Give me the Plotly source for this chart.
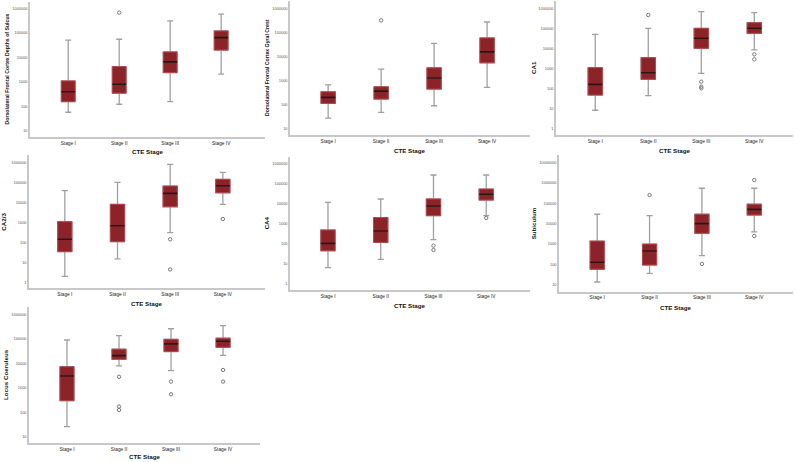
import plotly.graph_objects as go

W, H = 795, 462
STAGES = ["Stage I", "Stage II", "Stage III", "Stage IV"]

# ---- Dorsolateral Frontal Cortex Depths of Sulcus
SULCUS_LO = [58, 123, 157, 2100]
SULCUS_Q1 = [157, 350, 2400, 20000]
SULCUS_MED = [400, 800, 6600, 64000]
SULCUS_Q3 = [1100, 4200, 16700, 120000]
SULCUS_HI = [51000, 55000, 309000, 580000]
SULCUS_OUT_X = ["Stage II"]
SULCUS_OUT_Y = [670000]

# ---- Dorsolateral Frontal Cortex Gyral Crest
CREST_LO = [28, 49, 92, 530]
CREST_Q1 = [115, 174, 450, 5500]
CREST_MED = [204, 372, 1290, 15600]
CREST_Q3 = [347, 560, 3400, 59000]
CREST_HI = [676, 3000, 35000, 270000]
CREST_OUT_X = ["Stage II"]
CREST_OUT_Y = [316000]

# ---- CA1
CA1_LO = [8, 43, 560, 8300]
CA1_Q1 = [46, 282, 10000, 56000]
CA1_MED = [158, 600, 31600, 100000]
CA1_Q3 = [1070, 3400, 100000, 190000]
CA1_HI = [50000, 100000, 676000, 603000]
CA1_OUT_X = ["Stage II", "Stage III", "Stage III", "Stage III", "Stage IV", "Stage IV"]
CA1_OUT_Y = [462000, 214, 120, 100, 5000, 2800]

# ---- CA2/3
CA23_LO = [2, 15, 302, 7900]
CA23_Q1 = [34, 107, 6000, 30000]
CA23_MED = [141, 676, 28000, 67600]
CA23_Q3 = [1070, 7900, 65000, 141000]
CA23_HI = [38000, 100000, 794000, 316000]
CA23_OUT_X = ["Stage III", "Stage III", "Stage IV"]
CA23_OUT_Y = [141, 4.4, 1460]

# ---- CA4
CA4_LO = [6.6, 17, 164, 2600]
CA4_Q1 = [46, 120, 2600, 15800]
CA4_MED = [108, 447, 7900, 30500]
CA4_Q3 = [500, 2100, 17800, 56000]
CA4_HI = [12000, 17800, 282000, 282000]
CA4_OUT_X = ["Stage III", "Stage III", "Stage IV"]
CA4_OUT_Y = [83, 50, 2000]

# ---- Subiculum
SUB_LO = [14, 37, 270, 4000]
SUB_Q1 = [59, 95, 3400, 26500]
SUB_MED = [129, 457, 10000, 50000]
SUB_Q3 = [1400, 1000, 28800, 89000]
SUB_HI = [28800, 24500, 537000, 537000]
SUB_OUT_X = ["Stage II", "Stage III", "Stage IV", "Stage IV"]
SUB_OUT_Y = [250000, 107, 1350000, 2500]

# ---- Locus Coeruleus
LC_LO = [26, 7800, 5000, 21000]
LC_Q1 = [295, 14500, 30000, 45000]
LC_MED = [3000, 20400, 62000, 79000]
LC_Q3 = [7200, 37400, 95000, 105000]
LC_HI = [89000, 135000, 257000, 345000]
LC_OUT_X = ["Stage II", "Stage II", "Stage II", "Stage III", "Stage III", "Stage IV", "Stage IV"]
LC_OUT_Y = [2800, 170, 123, 1780, 540, 5300, 1780]

TICKS_6 = [10, 100, 1000, 10000, 100000, 1000000]
TICKS_6_ONE = [1, 10, 100, 1000, 10000, 100000, 1000000]
TICKS_7 = [10, 100, 1000, 10000, 100000, 1000000, 10000000]

TITLES = [
    "Dorsolateral Frontal Cortex Depths of Sulcus",
    "Dorsolateral Frontal Cortex Gyral Crest",
    "CA1", "CA2/3", "CA4", "Subiculum", "Locus Coeruleus",
]
X_TITLE = "CTE Stage"

PANELS = [
    (SULCUS_LO, SULCUS_Q1, SULCUS_MED, SULCUS_Q3, SULCUS_HI, SULCUS_OUT_X, SULCUS_OUT_Y, TICKS_6),
    (CREST_LO, CREST_Q1, CREST_MED, CREST_Q3, CREST_HI, CREST_OUT_X, CREST_OUT_Y, TICKS_6),
    (CA1_LO, CA1_Q1, CA1_MED, CA1_Q3, CA1_HI, CA1_OUT_X, CA1_OUT_Y, TICKS_6_ONE),
    (CA23_LO, CA23_Q1, CA23_MED, CA23_Q3, CA23_HI, CA23_OUT_X, CA23_OUT_Y, TICKS_6_ONE),
    (CA4_LO, CA4_Q1, CA4_MED, CA4_Q3, CA4_HI, CA4_OUT_X, CA4_OUT_Y, TICKS_6_ONE),
    (SUB_LO, SUB_Q1, SUB_MED, SUB_Q3, SUB_HI, SUB_OUT_X, SUB_OUT_Y, TICKS_7),
    (LC_LO, LC_Q1, LC_MED, LC_Q3, LC_HI, LC_OUT_X, LC_OUT_Y, TICKS_6),
]

# layout geometry (pixels): x0, x1, ytop, ybottom, xrange, yrange(log), ytitle x, xtitle y, title size
GEOM = [
    (30, 265, 2, 137, [-0.75, 3.86], [0.755, 6.26], 6, 152, 5.2),
    (290, 530, 1, 135, [-0.72, 3.81], [0.752, 6.30], 267, 150, 5.2),
    (556, 793, 1, 135, [-0.74, 3.73], [-0.335, 6.365], 533, 150, 6.2),
    (29, 265, 155, 288.3, [-0.68, 3.80], [-0.30, 6.365], 4, 303, 6.2),
    (290, 530, 156.7, 290, [-0.72, 3.83], [-0.30, 6.365], 266, 305, 6.2),
    (559, 793, 155, 291.7, [-0.73, 3.74], [0.672, 7.357], 533, 307, 6.2),
    (29, 260, 306.7, 443.3, [-0.73, 3.71], [0.73, 6.31], 5, 456, 6.2),
]

FILL = "#8c2329"
BORDER = "#b5474b"
MEDIAN = "#2b1414"
WHISK = "#a0a0a0"
FONT = "Liberation Sans"

fig = go.Figure()
annotations = []
layout_axes = {}

for i, (data, g) in enumerate(zip(PANELS, GEOM)):
    lo, q1, med, q3, hi, ox, oy, ticks = data
    x0, x1, yt, yb, xr, yr, tx, xty, tsize = g
    n = i + 1
    xa = "x" if n == 1 else f"x{n}"
    ya = "y" if n == 1 else f"y{n}"
    common = dict(x=STAGES, xaxis=xa, yaxis=ya, width=0.27, showlegend=False,
                  hoverinfo="skip", boxpoints=False)
    # whiskers
    fig.add_trace(go.Box(q1=q1, median=med, q3=q3, lowerfence=lo, upperfence=hi,
                         line=dict(color=WHISK, width=1.3), fillcolor="rgba(0,0,0,0)",
                         whiskerwidth=0.43, **common))
    # box body
    fig.add_trace(go.Box(q1=q1, median=med, q3=q3, lowerfence=q1, upperfence=q3,
                         line=dict(color=BORDER, width=1), fillcolor=FILL,
                         whiskerwidth=0, **common))
    # median line
    fig.add_trace(go.Box(q1=med, median=med, q3=med, lowerfence=med, upperfence=med,
                         line=dict(color=MEDIAN, width=1.6), fillcolor="rgba(0,0,0,0)",
                         whiskerwidth=0, **common))
    # outliers
    fig.add_trace(go.Scatter(x=ox, y=oy, xaxis=xa, yaxis=ya, mode="markers",
                             marker=dict(symbol="circle-open", size=3.4,
                                         color="#7a7a7a", line=dict(width=1)),
                             showlegend=False, hoverinfo="skip"))

    xkey = "xaxis" if n == 1 else f"xaxis{n}"
    ykey = "yaxis" if n == 1 else f"yaxis{n}"
    layout_axes[xkey] = dict(
        domain=[x0 / W, x1 / W], anchor=ya, type="category",
        categoryorder="array", categoryarray=STAGES, range=xr,
        showgrid=False, zeroline=False, showline=True, linecolor="#c8c8c8",
        linewidth=1.5, ticks="", tickfont=dict(family=FONT, size=4.8, color="#222"),
        fixedrange=True,
    )
    layout_axes[ykey] = dict(
        domain=[1 - yb / H, 1 - yt / H], anchor=xa, type="log", range=yr,
        tickvals=ticks, ticktext=[str(t) for t in ticks],
        showgrid=False, zeroline=False, showline=True, linecolor="#c8c8c8",
        linewidth=1.5, ticks="", tickfont=dict(family=FONT, size=3.9, color="#555"),
        fixedrange=True,
    )
    annotations.append(dict(
        text=TITLES[i], xref="paper", yref="paper", x=tx / W, y=1 - (yt + yb) / 2 / H,
        textangle=-90, showarrow=False, xanchor="center", yanchor="middle",
        font=dict(family=FONT, size=tsize, color="#111", weight="bold"),
    ))
    annotations.append(dict(
        text=X_TITLE, xref="paper", yref="paper", x=(x0 + x1) / 2 / W, y=1 - xty / H,
        showarrow=False, xanchor="center", yanchor="middle", borderpad=0,
        font=dict(family=FONT, size=6.2, color="#111", weight="bold"),
    ))

fig.update_layout(
    width=W, height=H, margin=dict(l=0, r=0, t=0, b=0),
    paper_bgcolor="white", plot_bgcolor="white", boxmode="overlay",
    annotations=annotations, **layout_axes,
)

fig.write_html(
    "out.html",
    config={"displayModeBar": False},
    post_script="document.body.style.margin='0';document.body.style.overflow='hidden';",
)
